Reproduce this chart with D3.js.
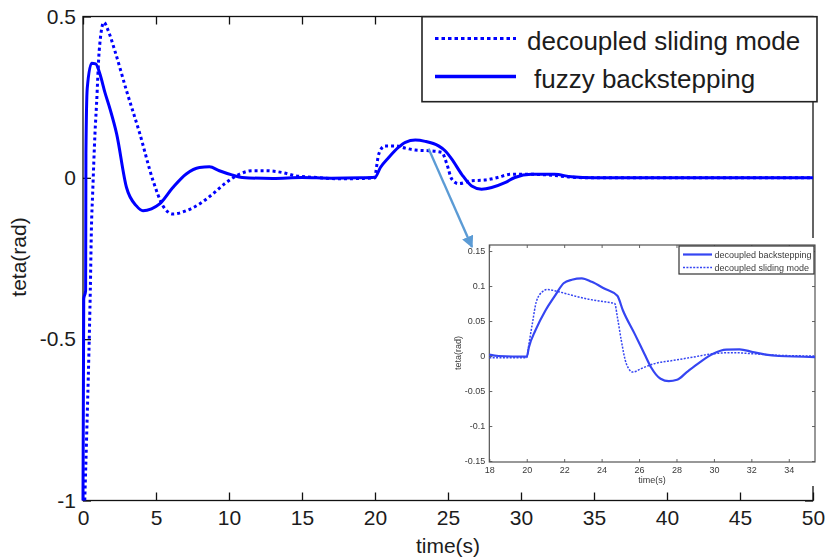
<!DOCTYPE html>
<html>
<head>
<meta charset="utf-8">
<script src="https://cdn.jsdelivr.net/npm/d3@7"></script>
<style>
  html, body { margin: 0; padding: 0; background: #fff; }
  svg { display: block; }
  text { font-family: "Liberation Sans", Arial, sans-serif; }
</style>
</head>
<body>
<svg id="chart" width="825" height="560"></svg>
<script>
// ---- Main response: pitch angle teta (rad) over time (s) ----
const fuzzyT = [0, 0.05, 0.18, 0.2, 0.29, 0.59, 0.87, 1.16, 1.5, 1.84, 2.3, 2.98, 3.66, 4.11, 4.69, 5.25, 6.14, 7.07, 7.98, 8.66, 9.34, 10.2, 10.9, 13, 15, 17, 19, 20, 20.37, 20.94, 21.62, 22.08, 22.76, 23.44, 24.35, 24.8, 25.26, 25.94, 26.62, 27.3, 27.99, 28.9, 29.58, 30.72, 32.3, 33.45, 35, 40, 45, 50];
const fuzzyV = [-1, -0.375, -0.35, 0.075, 0.277, 0.355, 0.353, 0.322, 0.265, 0.215, 0.137, -0.03, -0.087, -0.102, -0.096, -0.081, -0.031, 0.012, 0.032, 0.034, 0.022, 0.009, 0.001, -0.002, 0.001, -0.001, 0, 0.002, 0.032, 0.063, 0.095, 0.110, 0.117, 0.113, 0.099, 0.084, 0.058, 0.011, -0.025, -0.035, -0.030, -0.015, 0.001, 0.011, 0.011, 0.003, 0, 0, 0, 0];

const slidingT = [0.12, 0.25, 0.4, 0.5, 0.58, 0.66, 0.82, 0.93, 1.11, 1.43, 1.72, 2.18, 2.98, 3.89, 4.8, 5.48, 6.16, 7.07, 7.98, 8.89, 9.8, 10.7, 11.6, 12.5, 13.7, 14.6, 16, 17.5, 19, 20, 20.07, 20.26, 20.67, 21.4, 22.08, 22.76, 23.67, 24.58, 24.92, 25.26, 25.72, 26.62, 27.5, 28.4, 29.3, 30.7, 32.1, 33.5, 35, 50];
const slidingV = [-1, -0.8, -0.55, -0.35, -0.15, -0.05, 0.137, 0.23, 0.394, 0.482, 0.457, 0.394, 0.27, 0.137, -0.009, -0.087, -0.112, -0.102, -0.081, -0.05, -0.015, 0.011, 0.022, 0.022, 0.016, 0.006, 0.001, -0.003, -0.002, 0, 0.022, 0.074, 0.099, 0.099, 0.092, 0.086, 0.084, 0.079, 0.043, -0.004, -0.018, -0.009, -0.007, 0.001, 0.011, 0.011, 0.008, 0.002, 0, 0];

const mainXTicks = [0, 5, 10, 15, 20, 25, 30, 35, 40, 45, 50];
const mainYTicks = [-1, -0.5, 0, 0.5];
const mainLegend = ["decoupled sliding mode", "fuzzy backstepping"];

// ---- Zoomed view of the disturbance around t = 20 s ----
const backT = [18, 18.5, 20, 20.12, 20.47, 21.0, 21.53, 21.97, 22.41, 22.94, 23.47, 24.17, 24.84, 25.14, 25.76, 26.29, 26.64, 27.15, 27.59, 28.03, 28.55, 29.26, 29.96, 30.66, 31.37, 32.07, 32.77, 33.47, 35.4];
const backV = [0.002, 0, -0.001, 0.013, 0.037, 0.065, 0.087, 0.104, 0.109, 0.111, 0.106, 0.096, 0.086, 0.065, 0.032, 0.003, -0.016, -0.0325, -0.036, -0.034, -0.023, -0.0086, 0.0033, 0.0091, 0.0096, 0.0057, 0.0019, 0, -0.0015];

const zoomSlideT = [18, 20, 20.12, 20.3, 20.51, 20.83, 21.1, 21.72, 22.6, 23.3, 24.17, 24.7, 24.84, 25.05, 25.32, 25.67, 26.11, 26.81, 27.86, 28.92, 29.96, 31.0, 32.07, 33.47, 35.4];
const zoomSlideV = [-0.0024, -0.0024, 0.0177, 0.0463, 0.0774, 0.0917, 0.095, 0.0917, 0.0855, 0.0812, 0.0774, 0.075, 0.056, 0.0225, -0.011, -0.023, -0.018, -0.011, -0.0062, -0.0014, 0.0033, 0.0048, 0.0033, 0.001, 0];

const insetXTicks = [18, 20, 22, 24, 26, 28, 30, 32, 34];
const insetYTicks = [-0.15, -0.1, -0.05, 0, 0.05, 0.1, 0.15];
const insetLegend = ["decoupled backstepping", "decoupled sliding mode"];

const zip = (ts, vs) => ts.map((t, i) => ({ t, v: vs[i] }));
const fmt = d => String(+d.toFixed(2));

const svg = d3.select("#chart");
const BLUE = "#0000ff";
const INK = "#1c1c1c";

// ---------- main axes ----------
const x = d3.scaleLinear().domain([0, 50]).range([83, 813]);
const y = d3.scaleLinear().domain([-1, 0.5]).range([500.5, 16.5]);

const main = svg.append("g");

main.append("rect")
  .attr("x", x(0)).attr("y", y(0.5))
  .attr("width", x(50) - x(0)).attr("height", y(-1) - y(0.5))
  .attr("fill", "none").attr("stroke", "#111").attr("stroke-width", 1.3);

function styleAxis(g, fontSize, color) {
  g.select(".domain").remove();
  g.selectAll(".tick line").attr("stroke", "#111").attr("stroke-width", 1.3);
  g.selectAll(".tick text")
    .attr("fill", color)
    .style("font-size", fontSize + "px")
    .style("font-family", "'Liberation Sans', Arial, sans-serif");
}

main.append("g").attr("transform", `translate(0,${y(-1)})`)
  .call(d3.axisBottom(x).tickValues(mainXTicks).tickFormat(fmt).tickSizeInner(-8).tickSizeOuter(0).tickPadding(9.5))
  .call(g => styleAxis(g, 21, INK));
main.append("g").attr("transform", `translate(0,${y(0.5)})`)
  .call(d3.axisTop(x).tickValues(mainXTicks).tickFormat("").tickSizeInner(-8).tickSizeOuter(0))
  .call(g => styleAxis(g, 21, INK));
main.append("g").attr("transform", `translate(${x(0)},0)`)
  .call(d3.axisLeft(y).tickValues(mainYTicks).tickFormat(fmt).tickSizeInner(-8).tickSizeOuter(0).tickPadding(7))
  .call(g => styleAxis(g, 21, INK));
main.append("g").attr("transform", `translate(${x(50)},0)`)
  .call(d3.axisRight(y).tickValues(mainYTicks).tickFormat("").tickSizeInner(-8).tickSizeOuter(0))
  .call(g => styleAxis(g, 21, INK));

main.append("text")
  .attr("x", 448).attr("y", 553)
  .attr("text-anchor", "middle").attr("fill", INK)
  .style("font-size", "21px").text("time(s)");
main.append("text")
  .attr("transform", "translate(26,257) rotate(-90)")
  .attr("text-anchor", "middle").attr("fill", INK)
  .style("font-size", "21px").text("teta(rad)");

const line = d3.line().x(d => x(d.t)).y(d => y(d.v)).curve(d3.curveMonotoneX);

main.append("path").datum(zip(slidingT, slidingV))
  .attr("d", line).attr("fill", "none")
  .attr("stroke", BLUE).attr("stroke-width", 3)
  .attr("stroke-dasharray", "3,3");
main.append("path").datum(zip(fuzzyT, fuzzyV))
  .attr("d", line).attr("fill", "none")
  .attr("stroke", BLUE).attr("stroke-width", 3)
  .attr("stroke-linejoin", "round");

// ---------- main legend ----------
const leg = svg.append("g");
leg.append("rect")
  .attr("x", 422).attr("y", 16.7).attr("width", 395).attr("height", 85)
  .attr("fill", "#fff").attr("stroke", "#222").attr("stroke-width", 1.6);
const legDash = ["3.5,3", null];
const legY = [38.5, 76.5];
const legTextX = [527, 534];
const legBase = [50, 88];
mainLegend.forEach((label, i) => {
  leg.append("line")
    .attr("x1", 435).attr("x2", 516).attr("y1", legY[i]).attr("y2", legY[i])
    .attr("stroke", BLUE).attr("stroke-width", i === 0 ? 3 : 3.5)
    .attr("stroke-dasharray", legDash[i]);
  leg.append("text")
    .attr("x", legTextX[i]).attr("y", legBase[i])
    .attr("fill", INK).style("font-size", "26px").text(label);
});

// ---------- inset ----------
const defs = svg.append("defs");
defs.append("filter").attr("id", "soft")
  .append("feGaussianBlur").attr("stdDeviation", 0.4);

svg.append("rect")
  .attr("x", 452).attr("y", 238).attr("width", 370).attr("height", 248)
  .attr("fill", "#fff");

const inset = svg.append("g").attr("filter", "url(#soft)");
const ix = d3.scaleLinear().domain([18, 35.4]).range([489.3, 815]);
const iy = d3.scaleLinear().domain([-0.1514, 0.1586]).range([462, 245]);
const IGRAY = "#3a3a3a";
const IBLUE = "#3545f2";

inset.append("rect")
  .attr("x", ix(18)).attr("y", iy(0.1586))
  .attr("width", ix(35.4) - ix(18)).attr("height", iy(-0.1514) - iy(0.1586))
  .attr("fill", "#fff").attr("stroke", "#444").attr("stroke-width", 1.1);

function styleInset(g) {
  g.select(".domain").remove();
  g.selectAll(".tick line").attr("stroke", "#555").attr("stroke-width", 0.9);
  g.selectAll(".tick text").attr("fill", IGRAY)
    .style("font-size", "9px")
    .style("font-family", "'Liberation Sans', Arial, sans-serif");
}
inset.append("g").attr("transform", `translate(0,${iy.range()[0]})`)
  .call(d3.axisBottom(ix).tickValues(insetXTicks).tickFormat(fmt).tickSizeInner(-3).tickSizeOuter(0).tickPadding(4.5))
  .call(styleInset);
inset.append("g").attr("transform", `translate(0,${iy.range()[1]})`)
  .call(d3.axisTop(ix).tickValues(insetXTicks).tickFormat("").tickSizeInner(-3).tickSizeOuter(0))
  .call(styleInset);
inset.append("g").attr("transform", `translate(${ix.range()[0]},0)`)
  .call(d3.axisLeft(iy).tickValues(insetYTicks).tickFormat(fmt).tickSizeInner(-3).tickSizeOuter(0).tickPadding(4))
  .call(styleInset);
inset.append("g").attr("transform", `translate(${ix.range()[1]},0)`)
  .call(d3.axisRight(iy).tickValues(insetYTicks).tickFormat("").tickSizeInner(-3).tickSizeOuter(0))
  .call(styleInset);

inset.append("text")
  .attr("x", 652).attr("y", 483).attr("text-anchor", "middle")
  .attr("fill", IGRAY).style("font-size", "9px").text("time(s)");
inset.append("text")
  .attr("transform", "translate(461,353) rotate(-90)")
  .attr("text-anchor", "middle")
  .attr("fill", IGRAY).style("font-size", "9px").text("teta(rad)");

const iline = d3.line().x(d => ix(d.t)).y(d => iy(d.v)).curve(d3.curveMonotoneX);
inset.append("path").datum(zip(zoomSlideT, zoomSlideV))
  .attr("d", iline).attr("fill", "none")
  .attr("stroke", IBLUE).attr("stroke-width", 1.5)
  .attr("stroke-dasharray", "2,1.4");
inset.append("path").datum(zip(backT, backV))
  .attr("d", iline).attr("fill", "none")
  .attr("stroke", IBLUE).attr("stroke-width", 2.2);

const ileg = inset.append("g");
ileg.append("rect")
  .attr("x", 679).attr("y", 246).attr("width", 135).attr("height", 28)
  .attr("fill", "#fff").attr("stroke", "#333").attr("stroke-width", 1.2);
insetLegend.forEach((label, i) => {
  const ly = 254.5 + i * 13;
  ileg.append("line")
    .attr("x1", 683).attr("x2", 712).attr("y1", ly).attr("y2", ly)
    .attr("stroke", IBLUE).attr("stroke-width", i === 0 ? 2.2 : 1.5)
    .attr("stroke-dasharray", i === 0 ? null : "2,1.4");
  ileg.append("text")
    .attr("x", 714.5).attr("y", ly + 3.2)
    .attr("fill", IGRAY).style("font-size", "9px").text(label);
});

// ---------- pointer from the main curve to the zoomed view ----------
const arrowColor = "#5b9bd5";
defs.append("marker").attr("id", "head")
  .attr("viewBox", "0 0 10 10").attr("refX", 9).attr("refY", 5)
  .attr("markerWidth", 5).attr("markerHeight", 5)
  .attr("markerUnits", "strokeWidth").attr("orient", "auto")
  .append("path").attr("d", "M0,0 L10,5 L0,10 Z").attr("fill", arrowColor);

svg.append("line")
  .attr("x1", x(23.67)).attr("y1", y(0.0905))
  .attr("x2", 472).attr("y2", 247)
  .attr("stroke", arrowColor).attr("stroke-width", 2.4)
  .attr("marker-end", "url(#head)");
</script>
</body>
</html>
